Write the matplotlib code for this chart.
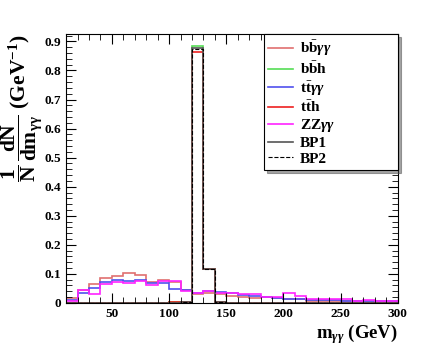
import numpy as np
import matplotlib.pyplot as plt
from matplotlib.lines import Line2D
from matplotlib.ticker import MultipleLocator

plt.rcParams['font.family'] = 'Liberation Serif'
plt.rcParams['font.weight'] = 'bold'
plt.rcParams['axes.labelweight'] = 'bold'
plt.rcParams['mathtext.fontset'] = 'custom'
plt.rcParams['mathtext.rm'] = 'Liberation Serif:bold'
plt.rcParams['mathtext.it'] = 'Liberation Serif:bold:italic'
plt.rcParams['mathtext.bf'] = 'Liberation Serif:bold'

# bin edges, 10 GeV bins from 10 to 300
edges = np.arange(10, 301, 10)

bbaa = [0.018, 0.045, 0.065, 0.085, 0.093, 0.102, 0.096, 0.072, 0.078, 0.072,
        0.045, 0.030, 0.035, 0.030, 0.025, 0.022, 0.018, 0.020, 0.018, 0.012,
        0.012, 0.008, 0.008, 0.006, 0.006, 0.005, 0.004, 0.004, 0.004]
tta = [0.010, 0.035, 0.052, 0.072, 0.080, 0.077, 0.080, 0.068, 0.070, 0.047,
       0.045, 0.035, 0.040, 0.038, 0.034, 0.028, 0.025, 0.020, 0.018, 0.012,
       0.012, 0.010, 0.010, 0.010, 0.008, 0.008, 0.006, 0.006, 0.005]
zzaa = [0.005, 0.045, 0.030, 0.065, 0.072, 0.068, 0.075, 0.060, 0.075, 0.075,
        0.040, 0.035, 0.040, 0.035, 0.035, 0.030, 0.030, 0.020, 0.020, 0.035,
        0.025, 0.012, 0.015, 0.012, 0.012, 0.008, 0.010, 0.006, 0.008]
bbh = [0.0, 0.0, 0.0, 0.0, 0.0, 0.0, 0.0, 0.0, 0.0, 0.002,
       0.003, 0.884, 0.115, 0.002, 0.0, 0.0, 0.0, 0.0, 0.0, 0.0,
       0.0, 0.0, 0.0, 0.0, 0.0, 0.0, 0.0, 0.0, 0.0]
tth = [0.0, 0.0, 0.0, 0.0, 0.0, 0.0, 0.0, 0.0, 0.0, 0.002,
       0.004, 0.863, 0.118, 0.003, 0.0, 0.0, 0.0, 0.0, 0.0, 0.0,
       0.0, 0.0, 0.0, 0.0, 0.0, 0.0, 0.0, 0.0, 0.0]
bp1 = [0.0, 0.0, 0.0, 0.0, 0.0, 0.0, 0.0, 0.0, 0.0, 0.001,
       0.002, 0.876, 0.117, 0.002, 0.0, 0.0, 0.0, 0.0, 0.0, 0.0,
       0.0, 0.0, 0.0, 0.0, 0.0, 0.0, 0.0, 0.0, 0.0]
bp2 = [0.0, 0.0, 0.0, 0.0, 0.0, 0.0, 0.0, 0.0, 0.0, 0.001,
       0.002, 0.873, 0.118, 0.002, 0.0, 0.0, 0.0, 0.0, 0.0, 0.0,
       0.0, 0.0, 0.0, 0.0, 0.0, 0.0, 0.0, 0.0, 0.0]

fig = plt.figure(figsize=(4.41, 3.45), dpi=100)
ax = fig.add_axes([0.150, 0.122, 0.752, 0.779])

ax.stairs(bbaa, edges, color='#e07070', lw=1.2)
ax.stairs(bbh, edges, color='#55dd55', lw=1.2)
ax.stairs(tta, edges, color='#5050ee', lw=1.2)
ax.stairs(tth, edges, color='#ee2020', lw=1.2)
ax.stairs(zzaa, edges, color='#ff22ff', lw=1.2)
ax.stairs(bp1, edges, color='#555555', lw=1.2)
ax.stairs(bp2, edges, color='black', lw=0.8, ls='--')

ax.set_xlim(10, 300)
ax.set_ylim(0, 0.925)
ax.xaxis.set_major_locator(MultipleLocator(50))
ax.xaxis.set_minor_locator(MultipleLocator(10))
ax.yaxis.set_major_locator(MultipleLocator(0.1))
ax.yaxis.set_minor_locator(MultipleLocator(0.02))
ax.tick_params(which='both', direction='in', top=True, right=True, labelsize=9.5)
ax.tick_params(which='major', length=7)
ax.tick_params(which='minor', length=4)
ax.set_yticks(np.arange(0, 0.91, 0.1))
ax.set_yticklabels(['0'] + ['%.1f' % v for v in np.arange(0.1, 0.91, 0.1)])
for s in ax.spines.values():
    s.set_linewidth(0.8)

ax.set_xlabel(r'm$_{\gamma\gamma}$ (GeV)', fontsize=13.5, loc='right', labelpad=2)
fig.text(0.05, 0.90,
         r'$\mathbf{\dfrac{1}{N}\,\dfrac{dN}{dm_{\gamma\gamma}}}$ (GeV$^{-1}$)',
         rotation=90, ha='center', va='top', fontsize=15.5)

handles = [
    Line2D([], [], color='#e07070', lw=1.2),
    Line2D([], [], color='#55dd55', lw=1.2),
    Line2D([], [], color='#5050ee', lw=1.2),
    Line2D([], [], color='#ee2020', lw=1.2),
    Line2D([], [], color='#ff22ff', lw=1.2),
    Line2D([], [], color='#555555', lw=1.2),
    Line2D([], [], color='black', lw=0.8, ls='--'),
]
labels = [r'b$\bar{\mathrm{b}}\gamma\gamma$', r'b$\bar{\mathrm{b}}$h',
          r't$\bar{\mathrm{t}}\gamma\gamma$', r't$\bar{\mathrm{t}}$h',
          r'ZZ$\gamma\gamma$', 'BP1', 'BP2']
leg = ax.legend(handles, labels, loc='upper right',
                bbox_to_anchor=(0.596, 0.0, 0.404, 1.0), mode='expand',
                borderaxespad=0, fontsize=11, fancybox=False, shadow=True,
                framealpha=1, edgecolor='black', handlelength=1.6,
                labelspacing=0.13, borderpad=0.3, handletextpad=0.45)
leg.get_frame().set_linewidth(0.8)

fig.savefig('out.png', dpi=100)
